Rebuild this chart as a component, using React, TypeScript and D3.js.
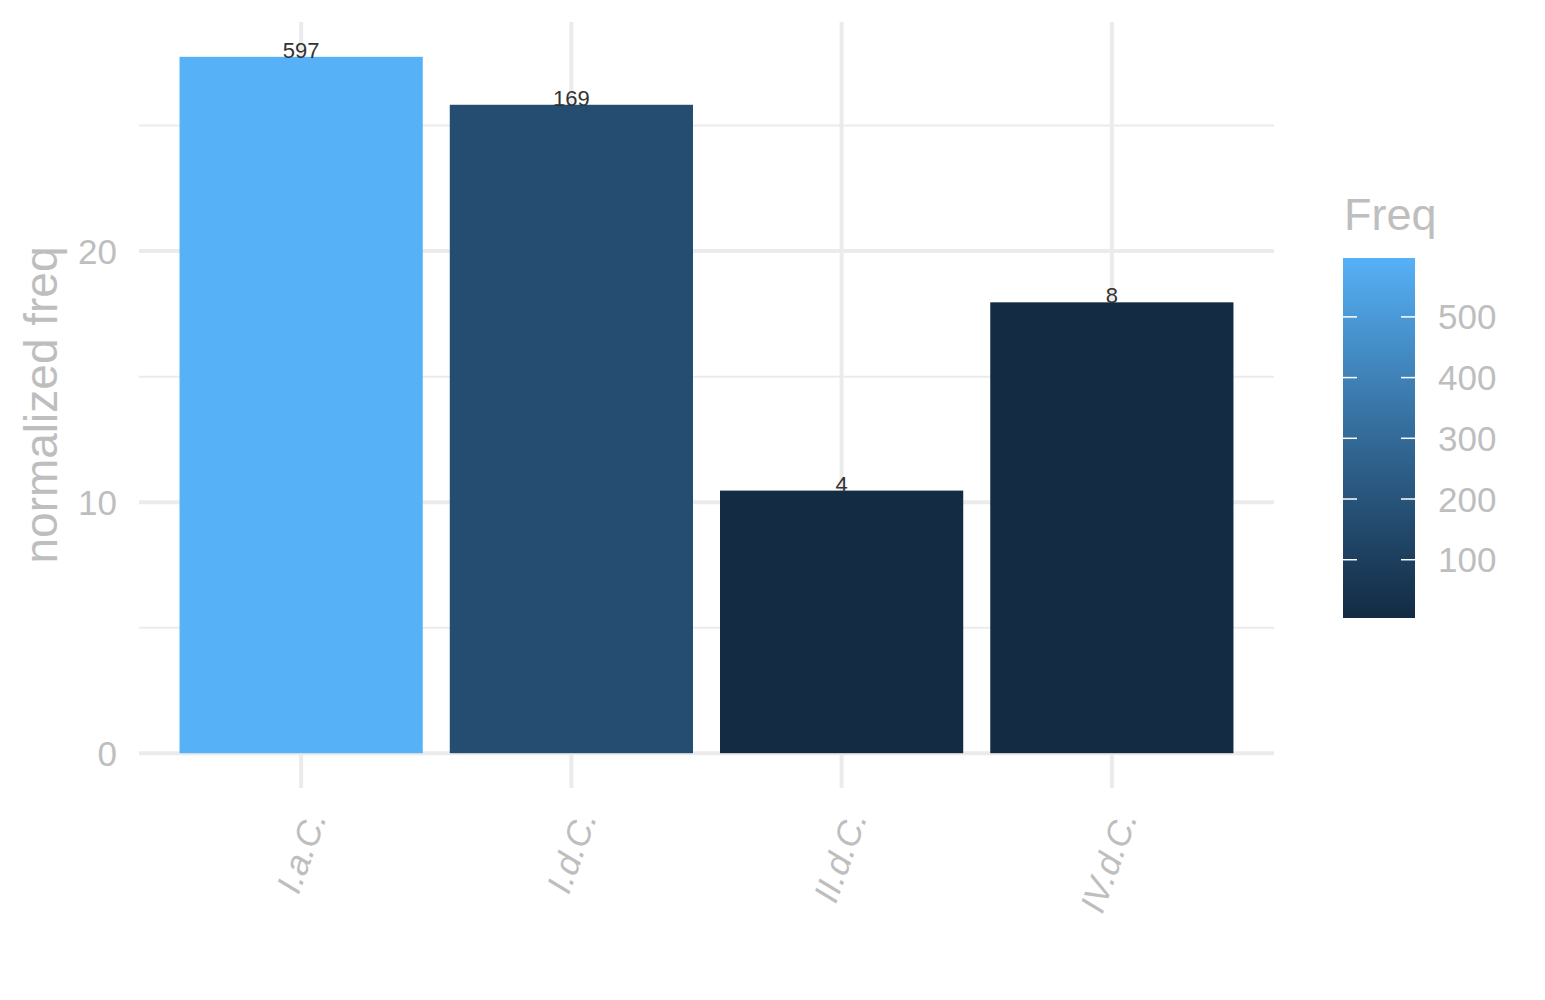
import React from 'react';
import * as d3 from 'd3';

// data
const categories = ['I.a.C.', 'I.d.C.', 'II.d.C.', 'IV.d.C.'];
const normFreq = [27.74, 25.83, 10.46, 17.96];
const freq = [597, 169, 4, 8];
const yTicks = [0, 10, 20];
const yMinor = [5, 15, 25];
const legendTicks = [100, 200, 300, 400, 500];

const W = 1545;
const H = 1000;
const panel = { left: 139, right: 1274, top: 22, bottom: 788 };
const grey = '#BEBEBE';
const gridCol = '#EBEBEB';
const font = '"Liberation Sans", Arial, Helvetica, sans-serif';

const App: React.FC = () => {
  const yMax = d3.max(normFreq)!;
  const y = d3.scaleLinear()
    .domain([-yMax * 0.05, yMax * 1.05])
    .range([panel.bottom, panel.top]);
  const x = d3.scaleBand<string>()
    .domain(categories)
    .range([panel.left, panel.right])
    .paddingInner(0.1)
    .paddingOuter(0.15);

  const fMin = d3.min(freq)!;
  const fMax = d3.max(freq)!;
  const color = d3.scaleLinear<string>()
    .domain([fMin, fMax])
    .range(['#132B43', '#56B1F7'])
    .interpolate(d3.interpolateLab);

  const bar = { x: 1343, w: 72, top: 258, bottom: 618 };
  const legY = d3.scaleLinear().domain([fMin, fMax]).range([bar.bottom, bar.top]);
  const stops = d3.range(0, 1.0001, 0.1);

  return (
    <svg width={W} height={H} style={{ display: 'block', margin: -8 }} fontFamily={font}>
      <rect width={W} height={H} fill="#fff" />
      <defs>
        <linearGradient id="freqGrad" x1="0" y1="1" x2="0" y2="0">
          {stops.map((t) => (
            <stop key={t} offset={t} stopColor={color(fMin + t * (fMax - fMin))} />
          ))}
        </linearGradient>
      </defs>

      {/* grid */}
      {yMinor.map((v) => (
        <line key={'mn' + v} x1={panel.left} x2={panel.right} y1={y(v)} y2={y(v)} stroke={gridCol} strokeWidth={2} />
      ))}
      {yTicks.map((v) => (
        <line key={'mj' + v} x1={panel.left} x2={panel.right} y1={y(v)} y2={y(v)} stroke={gridCol} strokeWidth={4} />
      ))}
      {categories.map((c) => {
        const cx = x(c)! + x.bandwidth() / 2;
        return <line key={'vx' + c} x1={cx} x2={cx} y1={panel.top} y2={panel.bottom} stroke={gridCol} strokeWidth={4} />;
      })}

      {/* bars */}
      {categories.map((c, i) => (
        <rect key={c} x={x(c)} width={x.bandwidth()} y={y(normFreq[i])} height={y(0) - y(normFreq[i])} fill={color(freq[i])} />
      ))}
      {categories.map((c, i) => (
        <text key={'lb' + c} x={x(c)! + x.bandwidth() / 2} y={y(normFreq[i]) + 1} textAnchor="middle" fontSize={22} fill="#333">
          {freq[i]}
        </text>
      ))}

      {/* y axis */}
      {yTicks.map((v) => (
        <text key={'yt' + v} x={117} y={y(v)} dy="0.36em" textAnchor="end" fontSize={35} fill={grey}>
          {v}
        </text>
      ))}
      <text transform={`translate(57,${(panel.top + panel.bottom) / 2}) rotate(-90)`} textAnchor="middle" fontSize={46} fill={grey}>
        normalized freq
      </text>

      {/* x axis labels */}
      {categories.map((c) => {
        const cx = x(c)! + x.bandwidth() / 2;
        return (
          <text key={'xt' + c} transform={`translate(${cx + 26},${817}) rotate(-70)`} textAnchor="end" fontSize={35} fontStyle="italic" fill={grey}>
            {c}
          </text>
        );
      })}

      {/* legend */}
      <text x={bar.x + 1} y={230} fontSize={45} fill={grey}>Freq</text>
      <rect x={bar.x} y={bar.top} width={bar.w} height={bar.bottom - bar.top} fill="url(#freqGrad)" />
      {legendTicks.map((v) => (
        <g key={'lt' + v}>
          <line x1={bar.x} x2={bar.x + 14} y1={legY(v)} y2={legY(v)} stroke="#fff" strokeWidth={1.5} />
          <line x1={bar.x + bar.w - 14} x2={bar.x + bar.w} y1={legY(v)} y2={legY(v)} stroke="#fff" strokeWidth={1.5} />
          <text x={1438} y={legY(v)} dy="0.36em" fontSize={35} fill={grey}>{v}</text>
        </g>
      ))}
    </svg>
  );
};

export default App;
